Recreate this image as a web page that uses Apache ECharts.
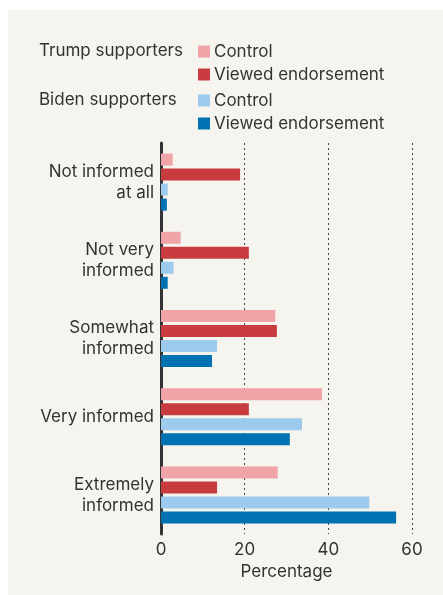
<!DOCTYPE html>
<html>
<head>
<meta charset="utf-8">
<script src="https://cdn.jsdelivr.net/npm/echarts@6/dist/echarts.min.js"></script>
<style>
  html, body { margin: 0; padding: 0; background: #fff; overflow: hidden; }
  #panel { position: absolute; left: 8px; top: 10px; width: 435px; height: 585px; background: #f5f4ee; }
  #chart { position: absolute; left: 0; top: 0; width: 443px; height: 595px; }
</style>
</head>
<body>
<div id="panel"></div>
<div id="chart"></div>
<script>
  // categories (top to bottom)
  const categories = ['Not informed\nat all', 'Not very\ninformed', 'Somewhat\ninformed', 'Very informed', 'Extremely\ninformed']
  // percentages
  const trumpControl = [2.8, 4.7, 27.3, 38.5, 27.9]
  const trumpViewed = [18.9, 21.0, 27.7, 21.0, 13.4]
  const bidenControl = [1.6, 3.0, 13.4, 33.7, 49.8]
  const bidenViewed = [1.4, 1.6, 12.2, 30.8, 56.2]
  const xTicks = [0, 20, 40, 60]

  const font = 'Inter'
  const textColor = '#333'

  const chart = echarts.init(document.getElementById('chart'))

  const mkSeries = (name, data, color) => ({
    name: name,
    type: 'bar',
    data: data,
    barWidth: 12,
    barGap: '25%',
    itemStyle: { color: color },
    emphasis: { disabled: true }
  })

  // one legend per entry so each row sits where it should
  const mkLegend = (name, top) => ({
    orient: 'vertical',
    left: 198,
    top: top,
    padding: 0,
    itemWidth: 12,
    itemHeight: 12,
    icon: 'rect',
    selectedMode: false,
    data: [name],
    textStyle: { fontFamily: font, fontSize: 17, color: textColor, lineHeight: 12, padding: [0, 0, 0, -1] },
    formatter: (n) => n.replace(/ \d$/, '')
  })

  chart.setOption({
    animation: false,
    backgroundColor: 'transparent',
    textStyle: { fontFamily: font },
    grid: { left: 161, right: 31, top: 143, bottom: 61, containLabel: false },
    legend: [
      mkLegend('Control 1', 43),
      mkLegend('Viewed endorsement 1', 66),
      mkLegend('Control 2', 92),
      mkLegend('Viewed endorsement 2', 115)
    ],
    graphic: [
      { type: 'text', left: 39, top: 42, style: { text: 'Trump supporters', font: '17px ' + font, fill: textColor } },
      { type: 'text', left: 39, top: 91, style: { text: 'Biden supporters', font: '17px ' + font, fill: textColor } }
    ],
    xAxis: {
      type: 'value',
      min: xTicks[0],
      max: xTicks[xTicks.length - 1],
      interval: 20,
      name: 'Percentage',
      nameLocation: 'middle',
      nameGap: 17,
      nameTextStyle: { fontFamily: font, fontSize: 17, color: textColor },
      axisLine: { show: false },
      axisTick: { show: false },
      axisLabel: { fontFamily: font, fontSize: 17, color: textColor, margin: 7 },
      splitLine: { show: true, lineStyle: { type: [2, 3], color: '#444', width: 1 } }
    },
    yAxis: {
      type: 'category',
      data: categories,
      inverse: true,
      axisLine: { show: true, lineStyle: { color: '#333', width: 3 } },
      axisTick: { show: false },
      axisLabel: { fontFamily: font, fontSize: 17, color: textColor, margin: 7, lineHeight: 21, align: 'right', padding: [4, 0, 0, 0] }
    },
    series: [
      mkSeries('Control 1', trumpControl, '#f0a4a8'),
      mkSeries('Viewed endorsement 1', trumpViewed, '#c83c3f'),
      mkSeries('Control 2', bidenControl, '#9ccbee'),
      mkSeries('Viewed endorsement 2', bidenViewed, '#0072b2')
    ]
  })
</script>
</body>
</html>
